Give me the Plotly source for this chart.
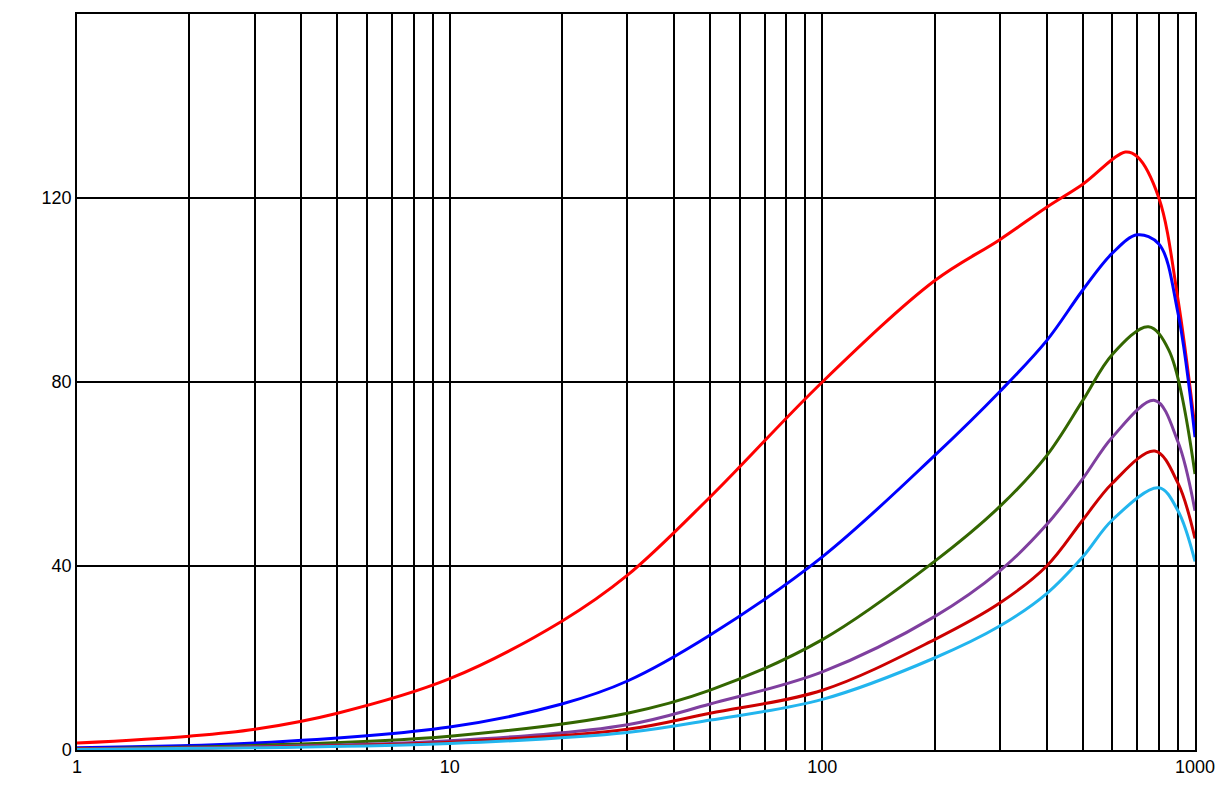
import plotly.graph_objects as go

x_red = [1, 2, 3, 5, 10, 20, 30, 50, 100, 200, 300, 400, 500, 650, 700, 800, 900, 1000]
y_red = [1.5, 3, 4.5, 8, 15.5, 28, 38, 55, 80, 102, 111, 118, 123, 130, 129, 120, 98, 70]
x_blue = [1, 3, 10, 20, 30, 50, 100, 200, 300, 400, 500, 600, 700, 800, 900, 1000]
y_blue = [0.5, 1.5, 5, 10, 15, 25, 42, 64, 78, 89, 100, 108, 112, 110, 95, 68]
x_green = [1, 3, 10, 30, 50, 100, 200, 300, 400, 500, 600, 750, 850, 1000]
y_green = [0.3, 1, 3, 8, 13, 24, 41, 53, 64, 76, 86, 92, 87, 60]
x_purple = [1, 3, 10, 30, 50, 100, 200, 300, 400, 500, 600, 780, 900, 1000]
y_purple = [0.2, 0.7, 2, 5.5, 10, 17, 29, 39, 49, 59, 68, 76, 67, 52]
x_dred = [1, 3, 10, 30, 50, 100, 200, 300, 400, 500, 600, 780, 900, 1000]
y_dred = [0.2, 0.6, 1.7, 4.5, 8, 13, 24, 32, 40, 50, 58, 65, 58, 46]
x_cyan = [1, 3, 10, 30, 50, 100, 200, 300, 400, 500, 600, 800, 900, 1000]
y_cyan = [0.1, 0.5, 1.4, 3.8, 6.5, 11, 20, 27, 34, 42, 50, 57, 52, 41]

series = [
    (x_red, y_red, "#ff0000"),
    (x_blue, y_blue, "#0000ff"),
    (x_green, y_green, "#336600"),
    (x_purple, y_purple, "#7f3f9f"),
    (x_dred, y_dred, "#cc0000"),
    (x_cyan, y_cyan, "#22b5ee"),
]

fig = go.Figure()
for xs, ys, c in series:
    fig.add_trace(go.Scatter(x=xs, y=ys, mode="lines", line=dict(color=c, width=3, shape="spline", smoothing=1.0), showlegend=False))

fig.update_layout(
    width=1229, height=805, margin=dict(l=69, r=42, t=4, b=63),
    paper_bgcolor="white", plot_bgcolor="white",
    font=dict(family="Liberation Sans, Arial", size=18, color="black"),
)
fig.update_xaxes(type="log", range=[0, 3], tickvals=[1, 10, 100, 1000], ticktext=["1", "10", "100", "1000"],
                 showgrid=True, gridcolor="black", gridwidth=1.5, minor=dict(dtick="D1", showgrid=True, gridcolor="black", gridwidth=1.5),
                 showline=True, linecolor="black", linewidth=1.5, mirror=True, zeroline=False, ticks="")
fig.update_yaxes(range=[0, 160], tickvals=[0, 40, 80, 120, 160], showgrid=True, gridcolor="black", gridwidth=1.5,
                 showline=True, linecolor="black", linewidth=1.5, mirror=True, zeroline=False, ticks="")
fig.write_html("out.html")
